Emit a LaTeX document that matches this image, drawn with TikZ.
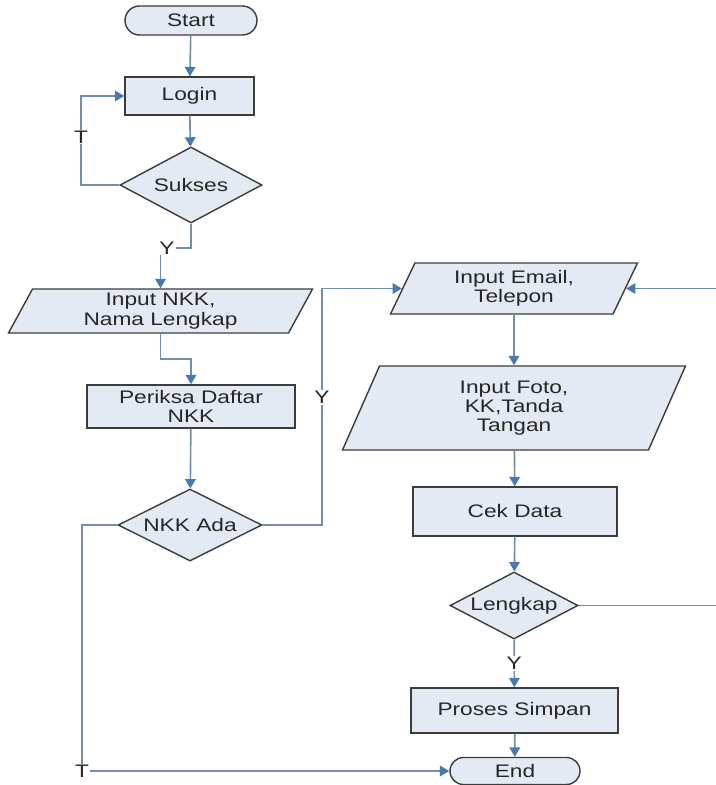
\documentclass[tikz,border=0pt]{standalone}
\usepackage{fontspec}
\setmainfont[FakeStretch=1.25]{Liberation Sans}
\usetikzlibrary{shapes.geometric,shapes.misc,arrows.meta}
\definecolor{boxfill}{HTML}{E4EAF4}
\definecolor{boxline}{HTML}{3C3C3C}
\definecolor{flowline}{HTML}{6F8FAF}
\definecolor{flowtip}{HTML}{4A78B0}
\tikzset{
  base/.style={draw=boxline,fill=boxfill,line width=1.2pt,text=black!85,align=center,inner sep=0pt,font=\fontsize{15.5}{16.5}\selectfont},
  terminal/.style={base,rounded rectangle},
  process/.style={base,rectangle},
  decision/.style={base,diamond,aspect=2},
  io/.style={base,trapezium,trapezium left angle=56,trapezium right angle=124,trapezium stretches body},
  flow/.style={draw=flowline,line width=1.4pt,-{Triangle[length=8pt,width=9pt,color=flowtip]}},
  lbl/.style={fill=white,inner sep=1pt,text=black!85,font=\fontsize{15.5}{16.5}\selectfont}
}
\begin{document}
\begin{tikzpicture}[x=0.03cm,y=-0.03cm]
\useasboundingbox (0,0) rectangle (715,785);
\node[terminal,minimum width=3.96cm,minimum height=0.87cm] (start) at (191,20.5) {Start};
\node[process,minimum width=3.87cm,minimum height=1.14cm] (login) at (189.5,96) {Login};
\node[decision,minimum width=4.26cm,minimum height=2.28cm] (sukses) at (191,185) {Sukses};
\node[io,minimum width=9.12cm,minimum height=1.32cm] (nkk) at (160.5,311) {Input NKK,\\Nama Lengkap};
\node[process,minimum width=6.24cm,minimum height=1.29cm] (periksa) at (191,406.5) {Periksa Daftar\\NKK};
\node[decision,minimum width=4.32cm,minimum height=2.16cm] (ada) at (190,525) {NKK Ada};
\node[io,minimum width=7.41cm,minimum height=1.53cm] (email) at (514,288.5) {Input Email,\\Telepon};
\node[io,minimum width=10.29cm,minimum height=2.52cm] (foto) at (514,408) {Input Foto,\\KK,Tanda\\Tangan};
\node[process,minimum width=6.12cm,minimum height=1.47cm] (cek) at (515,511.5) {Cek Data};
\node[decision,minimum width=3.84cm,minimum height=2.01cm] (lengkap) at (514,605.5) {Lengkap};
\node[process,minimum width=6.21cm,minimum height=1.35cm] (simpan) at (514.5,710.5) {Proses Simpan};
\node[terminal,minimum width=3.9cm,minimum height=0.81cm] (end) at (515,771) {End};

\draw[flow] (start) -- (login);
\draw[flow] (login) -- (sukses);
\draw[flow] (sukses.west) -- (81,185) |- node[lbl,pos=0.27]{T} (login.west);
\draw[flow] (sukses.south) |- (nkk.north |- 0,248) -- (nkk.north);
\node[lbl] (ysukses) at (167,248) {Y};
\draw[flow] (nkk.south) |- (periksa.north |- 0,359) -- (periksa.north);
\draw[flow] (periksa) -- (ada);
\draw[flow] (ada.east) -- (322,525) |- node[lbl,pos=0.27]{Y} (email.west);
\draw[flow] (ada.west) -- (82,525) |- node[lbl,pos=0.5]{T} (end.west);
\draw[flow] (email) -- (foto);
\draw[flow] (foto) -- (cek);
\draw[flow] (cek) -- (lengkap);
\draw[flow] (lengkap.east) -- (717,605.5) |- (email.east);
\draw[flow] (lengkap) -- node[lbl]{Y} (simpan);
\draw[flow] (simpan) -- (end);
\end{tikzpicture}
\end{document}
